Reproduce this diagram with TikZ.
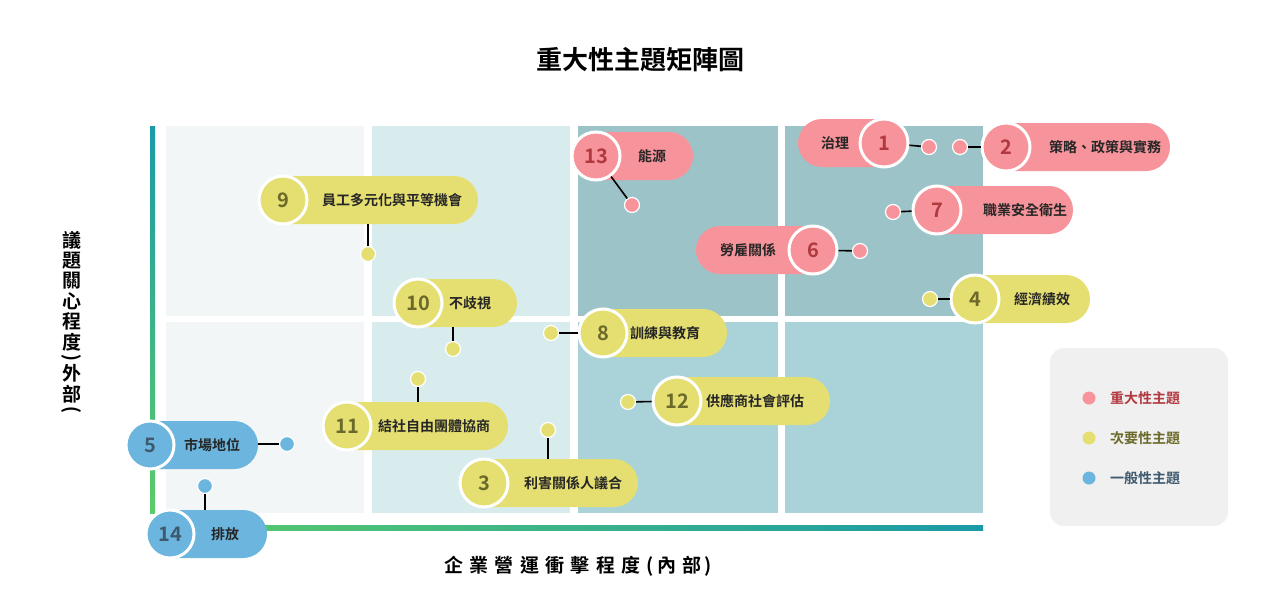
\documentclass[tikz,border=0pt]{standalone}
\usepackage{fontspec}
\setmainfont{Noto Sans CJK TC}[BoldFont={* Bold}]
\newfontfamily\cjk{Noto Sans CJK TC}[BoldFont={* Bold}]
\begin{document}
\begin{tikzpicture}[x=1pt,y=-1pt,font=\cjk\bfseries,
  cellA/.style={fill=cA,draw=none},
  pillbody/.style={draw=none},
  ring/.style={circle,draw=white,line width=3pt,minimum size=48pt,inner sep=0pt,font=\cjk\bfseries\fontsize{20}{20}\selectfont},
  lbl/.style={font=\cjk\bfseries\fontsize{14}{14}\selectfont,text=black!85,inner sep=0pt},
  dot/.style={circle,draw=white,line width=1.2pt,minimum size=15pt,inner sep=0pt},
  con/.style={line width=1.6pt,black}]
\definecolor{cA}{HTML}{F3F6F6}\definecolor{cB}{HTML}{D8ECEE}
\definecolor{cC}{HTML}{9CC4C8}\definecolor{cD}{HTML}{A9D3D9}
\definecolor{rd}{HTML}{F7939A}\definecolor{rdT}{HTML}{B0393F}
\definecolor{ye}{HTML}{E5DF72}\definecolor{yeT}{HTML}{6B6A2A}
\definecolor{bl}{HTML}{6BB5DE}\definecolor{blT}{HTML}{3F5A6E}
\definecolor{tl}{HTML}{1A9AA8}\definecolor{gr}{HTML}{5CCB6A}
\useasboundingbox (0,0) rectangle (1280,600);
\fill[white] (0,0) rectangle (1280,600);
\node (title) at (640,60) {\fontsize{26}{26}\selectfont 重大性主題矩陣圖};
% cells
\fill[cA] (166,126) rectangle (364,316); \fill[cB] (372,126) rectangle (570,316);
\fill[cC] (578,126) rectangle (778,316); \fill[cC] (785,126) rectangle (983,316);
\fill[cA] (166,322) rectangle (364,513); \fill[cB] (372,322) rectangle (570,513);
\fill[cD] (578,322) rectangle (778,513); \fill[cD] (785,322) rectangle (983,513);
% axes
\shade[top color=tl,bottom color=gr] (150,126) rectangle (155,513);
\shade[left color=gr,right color=tl] (152,525) rectangle (983,530);
\node (ylab) at (72,322) {\fontsize{19}{30}\selectfont\shortstack{議\\題\\關\\心\\程\\度\\\rotatebox{90}{(}\\外\\部\\\rotatebox{90}{)}}};
\node (xlab) at (578,566) {\fontsize{19}{19}\selectfont 企\,\,業\,\,營\,\,運\,\,衝\,\,擊\,\,程\,\,度\,\,(\,內\,\,部\,)};
% pill macro: name, cx, cy, x-end, text-x, number, text, fill, numcolor
\newcommand\mypill[9]{%
  \ifdim #4pt>#2pt
    \fill[#8] (#2,#3-24) -- (#4-24,#3-24) arc[start angle=-90,end angle=90,radius=24] -- (#2,#3+24) -- cycle;
  \else
    \fill[#8] (#2,#3-24) -- (#4+24,#3-24) arc[start angle=270,end angle=90,radius=24] -- (#2,#3+24) -- cycle;
  \fi
  \node[ring,fill=#8,text=#9] (#1) at (#2,#3) {#6};
  \node[lbl] (#1t) at (#5,#3) {#7};}
\mypill{p13}{596}{156}{693}{652}{13}{能源}{rd}{rdT}
\mypill{p9}{283}{200}{478}{392}{9}{員工多元化與平等機會}{ye}{yeT}
\mypill{p10}{418}{303}{517}{470}{10}{不歧視}{ye}{yeT}
\mypill{p8}{603}{333}{727}{665}{8}{訓練與教育}{ye}{yeT}
\mypill{p12}{677}{401}{830}{755}{12}{供應商社會評估}{ye}{yeT}
\mypill{p11}{347}{426}{508}{434}{11}{結社自由團體協商}{ye}{yeT}
\mypill{p3}{484}{483}{638}{573}{3}{利害關係人議合}{ye}{yeT}
\mypill{p5}{150}{445}{258}{212}{5}{市場地位}{bl}{blT}
\mypill{p14}{170}{534}{267}{225}{14}{排放}{bl}{blT}
\mypill{p1}{884}{143}{798}{835}{1}{治理}{rd}{rdT}
\mypill{p2}{1006}{147}{1170}{1105}{2}{策略、政策與實務}{rd}{rdT}
\mypill{p7}{937}{210}{1073}{1025}{7}{職業安全衛生}{rd}{rdT}
\mypill{p6}{813}{250}{696}{748}{6}{勞雇關係}{rd}{rdT}
\mypill{p4}{975}{299}{1090}{1042}{4}{經濟績效}{ye}{yeT}
% dots and connectors
\newcommand\mydot[4]{\node[dot,fill=#4] (#1) at (#2,#3) {};}
\mydot{d13}{632}{205}{rd}\draw[con] (p13) -- (d13);
\mydot{d9}{368}{254}{ye}\draw[con] (368,224) -- (d9);
\mydot{d10}{453}{349}{ye}\draw[con] (453,327) -- (d10);
\mydot{d8}{551}{333}{ye}\draw[con] (d8) -- (p8);
\mydot{d12}{628}{402}{ye}\draw[con] (d12) -- (p12);
\mydot{d11}{418}{379}{ye}\draw[con] (d11) -- (418,402);
\mydot{d3}{548}{430}{ye}\draw[con] (d3) -- (548,459);
\mydot{d5}{287}{444}{bl}\draw[con] (258,444) -- (d5);
\mydot{d14}{205}{486}{bl}\draw[con] (d14) -- (205,510);
\mydot{d1}{929}{147}{rd}\draw[con] (p1) -- (d1);
\mydot{d2}{960}{147}{rd}\draw[con] (d2) -- (p2);
\mydot{d7}{893}{212}{rd}\draw[con] (d7) -- (p7);
\mydot{d6}{860}{251}{rd}\draw[con] (p6) -- (d6);
\mydot{d4}{930}{299}{ye}\draw[con] (d4) -- (p4);
% legend
\fill[black!6,rounded corners=14pt] (1050,348) rectangle (1228,526);
\node[dot,fill=rd,draw=none,minimum size=13pt] (l1) at (1089,398) {};
\node[dot,fill=ye,draw=none,minimum size=13pt] (l2) at (1089,438) {};
\node[dot,fill=bl,draw=none,minimum size=13pt] (l3) at (1089,478) {};
\node[lbl,anchor=west,text=rdT] (l1t) at (1110,398) {重大性主題};
\node[lbl,anchor=west,text=yeT] (l2t) at (1110,438) {次要性主題};
\node[lbl,anchor=west,text=blT] (l3t) at (1110,478) {一般性主題};
\end{tikzpicture}
\end{document}
